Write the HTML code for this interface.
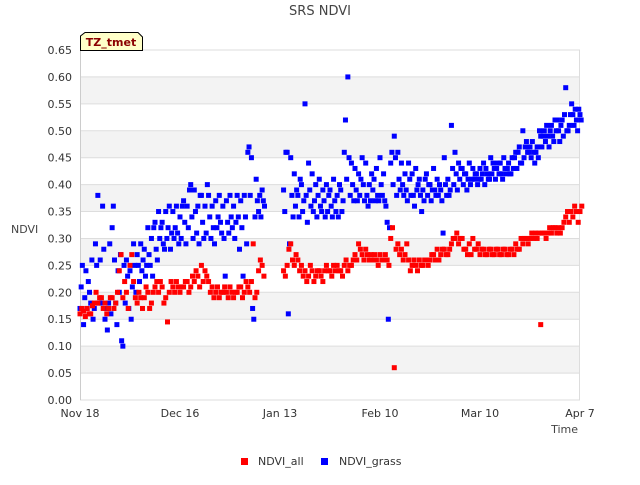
<!DOCTYPE html>
<html><head><meta charset="utf-8"><style>
body{margin:0;background:#fff;font-family:"Liberation Sans","DejaVu Sans",sans-serif}
svg text{font-family:"DejaVu Sans","Liberation Sans",sans-serif}
</style></head><body>
<svg width="640" height="480" xmlns="http://www.w3.org/2000/svg">
<g id="bands"></g>
<g id="grid"></g>
<g id="yt"></g>
<g id="xt"></g>
<g id="marks"></g>
<text x="320" y="15" text-anchor="middle" font-size="13" fill="#444">SRS NDVI</text>
<text x="11" y="233" font-size="11" fill="#444">NDVI</text>
<text x="578" y="433" text-anchor="end" font-size="11" fill="#444">Time</text>
<g>
<path d="M80.5,50.5 L80.5,36 L85,32.5 L138,32.5 L142.5,37 L142.5,50.5 Z" fill="#ffffc8" stroke="#000"/>
<text x="111" y="46" text-anchor="middle" font-size="11" font-weight="bold" fill="#8b0000">TZ_tmet</text>
</g>
<g>
<rect x="241" y="458" width="7" height="7" fill="#f00"/>
<text x="258" y="465" font-size="11" fill="#333">NDVI_all</text>
<rect x="321" y="458" width="7" height="7" fill="#00f"/>
<text x="339" y="465" font-size="11" fill="#333">NDVI_grass</text>
</g>
</svg>
<script>
const yTicks=[0,0.05,0.1,0.15,0.2,0.25,0.3,0.35,0.4,0.45,0.5,0.55,0.6,0.65];
const xTickLabels=["Nov 18","Dec 16","Jan 13","Feb 10","Mar 10","Apr 7"];
const xTickDays=[0,28,56,84,112,140];
const dayRanges=[[0,51],[57,140]];
const allV1=[0.16,0.165,0.17,0.16,0.18,0.18,0.19,0.18,0.17,0.19,0.18,0.24,0.19,0.2,0.25,0.22,0.18,0.19,0.19,0.2,0.18,0.21,0.2,0.21,0.19,0.2,0.21,0.22,0.2,0.21,0.22,0.21,0.22,0.23,0.25,0.24,0.22,0.21,0.2,0.19,0.2,0.2,0.21,0.19,0.2,0.21,0.2,0.21,0.22,0.19,0.24,0.25,
0.24,0.25,0.29,0.25,0.26,0.25,0.24,0.23,0.24,0.23,0.24,0.22,0.25,0.24,0.25,0.25,0.24,0.25,0.24,0.25,0.27,0.29,0.27,0.28,0.26,0.26,0.26,0.27,0.26,0.26,0.3,0.06,0.29,0.28,0.27,0.26,0.25,0.25,0.26,0.25,0.26,0.26,0.27,0.28,0.27,0.28,0.27,0.29,0.3,0.29,0.3,0.28,0.29,0.3,0.28,0.27,0.28,0.27,0.28,0.27,0.28,0.27,0.28,0.27,0.28,0.29,0.28,0.29,0.3,0.3,0.3,0.3,0.14,0.31,0.31,0.31,0.32,0.32,0.32,0.34,0.33,0.34,0.35,0.35];
const allV2=[0.17,0.155,0.16,0.175,0.2,0.19,0.17,0.16,0.19,0.17,0.2,0.27,0.22,0.17,0.27,0.19,0.2,0.17,0.21,0.17,0.2,0.22,0.22,0.18,0.145,0.22,0.2,0.21,0.21,0.22,0.2,0.23,0.24,0.21,0.22,0.23,0.2,0.19,0.21,0.2,0.21,0.19,0.2,0.2,0.21,0.19,0.22,0.2,0.29,0.2,0.26,0.23,
0.23,0.28,0.26,0.27,0.24,0.23,0.22,0.25,0.22,0.24,0.23,0.24,0.24,0.23,0.24,0.24,0.23,0.26,0.25,0.26,0.26,0.28,0.26,0.27,0.27,0.27,0.25,0.26,0.27,0.25,0.32,0.28,0.27,0.26,0.29,0.24,0.26,0.24,0.25,0.26,0.25,0.27,0.26,0.26,0.28,0.27,0.28,0.3,0.31,0.3,0.28,0.27,0.27,0.28,0.29,0.28,0.27,0.28,0.27,0.28,0.27,0.28,0.27,0.28,0.27,0.28,0.3,0.3,0.29,0.31,0.31,0.31,0.31,0.3,0.32,0.32,0.31,0.31,0.33,0.35,0.35,0.36,0.33,0.36];
const grassV1=[0.17,0.14,0.17,0.18,0.17,0.38,0.18,0.15,0.18,0.32,0.18,0.2,0.1,0.26,0.24,0.29,0.27,0.29,0.28,0.32,0.3,0.33,0.35,0.33,0.35,0.36,0.35,0.36,0.34,0.37,0.36,0.4,0.39,0.36,0.38,0.36,0.38,0.36,0.37,0.38,0.36,0.37,0.38,0.36,0.38,0.37,0.38,0.46,0.45,0.34,0.35,0.39,
0.39,0.46,0.45,0.42,0.38,0.4,0.55,0.44,0.42,0.4,0.41,0.39,0.4,0.39,0.41,0.38,0.39,0.46,0.6,0.44,0.43,0.42,0.45,0.44,0.4,0.39,0.43,0.45,0.42,0.33,0.44,0.49,0.46,0.44,0.42,0.44,0.42,0.43,0.41,0.39,0.42,0.4,0.43,0.41,0.39,0.45,0.41,0.51,0.46,0.44,0.43,0.42,0.44,0.43,0.42,0.43,0.44,0.42,0.45,0.43,0.44,0.42,0.43,0.44,0.45,0.46,0.47,0.5,0.48,0.47,0.46,0.47,0.49,0.5,0.49,0.51,0.52,0.5,0.52,0.58,0.51,0.53,0.52,0.53];
const grassV2=[0.21,0.19,0.22,0.26,0.29,0.18,0.36,0.17,0.29,0.36,0.14,0.27,0.25,0.23,0.15,0.25,0.25,0.24,0.23,0.27,0.23,0.28,0.3,0.29,0.3,0.28,0.3,0.31,0.3,0.33,0.32,0.34,0.35,0.29,0.33,0.31,0.34,0.32,0.32,0.33,0.3,0.33,0.34,0.3,0.34,0.32,0.34,0.47,0.17,0.41,0.38,0.37,
0.35,0.16,0.38,0.36,0.34,0.35,0.38,0.39,0.35,0.34,0.36,0.37,0.35,0.36,0.37,0.34,0.35,0.52,0.45,0.4,0.39,0.38,0.4,0.38,0.37,0.41,0.38,0.4,0.37,0.15,0.46,0.45,0.41,0.4,0.39,0.41,0.38,0.39,0.38,0.37,0.38,0.37,0.39,0.38,0.37,0.4,0.38,0.43,0.42,0.41,0.4,0.39,0.4,0.41,0.4,0.41,0.4,0.41,0.42,0.41,0.42,0.41,0.42,0.42,0.43,0.43,0.44,0.45,0.46,0.45,0.44,0.45,0.47,0.48,0.47,0.49,0.5,0.48,0.49,0.5,0.53,0.51,0.5,0.52];
const grassV3=[0.25,0.24,0.2,0.15,0.25,0.26,0.28,0.13,0.16,0.26,0.24,0.11,0.18,0.17,0.21,0.2,0.22,0.26,0.25,0.25,0.32,0.26,0.32,0.28,0.32,0.31,0.32,0.29,0.36,0.29,0.39,0.3,0.31,0.38,0.3,0.4,0.3,0.29,0.34,0.31,0.23,0.31,0.32,0.33,0.28,0.23,0.29,0.38,0.15,0.37,0.34,0.36,
0.46,0.29,0.34,0.39,0.41,0.37,0.33,0.36,0.37,0.38,0.35,0.34,0.38,0.34,0.35,0.4,0.37,0.41,0.38,0.37,0.37,0.41,0.37,0.36,0.42,0.37,0.37,0.38,0.36,0.32,0.4,0.38,0.39,0.38,0.37,0.38,0.36,0.4,0.35,0.41,0.4,0.39,0.38,0.4,0.31,0.38,0.39,0.4,0.39,0.43,0.42,0.41,0.41,0.42,0.41,0.42,0.43,0.41,0.44,0.43,0.44,0.45,0.43,0.42,0.45,0.46,0.44,0.47,0.46,0.48,0.46,0.5,0.49,0.51,0.5,0.48,0.52,0.51,0.53,0.5,0.55,0.54,0.54];
const NS="http://www.w3.org/2000/svg";
const X0=80,X1=580,Y0=400,Y1=50;
function xs(d){return X0+(d/140)*(X1-X0);}
function ys(v){return Y0-(v/0.65)*(Y0-Y1);}
function mk(tag,attrs,parent){const e=document.createElementNS(NS,tag);for(const k in attrs)e.setAttribute(k,attrs[k]);parent.appendChild(e);return e;}
const days=[];
dayRanges.forEach(r=>{for(let d=r[0];d<=r[1];d++)days.push(d);});
const bands=document.getElementById('bands'),grid=document.getElementById('grid'),yt=document.getElementById('yt'),xt=document.getElementById('xt'),marks=document.getElementById('marks');
for(let i=0;i<yTicks.length-1;i++){
  if(i%2===1){const r=mk('rect',{x:X0,y:ys(yTicks[i+1]),width:X1-X0,height:ys(yTicks[i])-ys(yTicks[i+1]),fill:'#f3f3f3'},bands);
  
  }
}
yTicks.forEach(v=>{
  const l=mk('line',{x1:X0,x2:X1,y1:ys(v),y2:ys(v),stroke:'#dddddd','stroke-width':1},grid);
  
  
  const t=mk('text',{x:72,y:ys(v)+4,'text-anchor':'end','font-size':11,fill:'#333'},yt);
  t.textContent=v.toFixed(2);
  
  
});
const ax=mk('line',{x1:X0+0.5,x2:X0+0.5,y1:Y1,y2:Y0,stroke:'#ccc'},grid);


const ax2=mk('line',{x1:X1-0.5,x2:X1-0.5,y1:Y1,y2:Y0,stroke:'#ddd'},grid);


xTickDays.forEach((d,i)=>{
  const t=mk('text',{x:xs(d),y:417,'text-anchor':'middle','font-size':11,fill:'#333'},xt);
  t.textContent=xTickLabels[i];
  
  
});
function plot(vals,off,color,name){
  vals.forEach((v,i)=>{
    const r=mk('rect',{x:xs(days[i]+off)-2.5,y:ys(v)-2.5,width:5,height:5,fill:color},marks);
    
    
  });
}
plot(grassV1,0,'#0000ff','grass-point');
plot(grassV2,0.33,'#0000ff','grass-point');
plot(grassV3,0.66,'#0000ff','grass-point');
plot(allV1,0,'#ff0000','all-point');
plot(allV2,0.5,'#ff0000','all-point');
</script>
</body></html>
